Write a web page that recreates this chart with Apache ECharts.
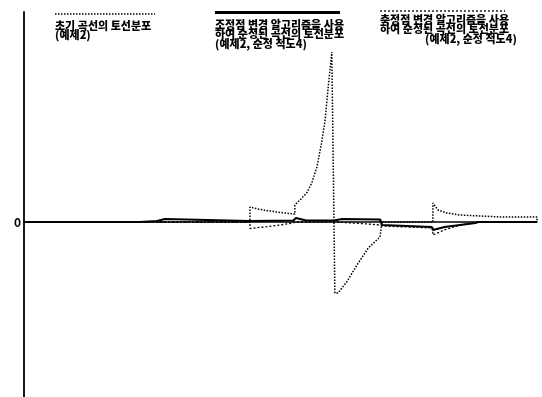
<!DOCTYPE html>
<html><head><meta charset="utf-8">
<script src="https://cdn.jsdelivr.net/npm/echarts@6/dist/echarts.min.js"></script>
<style>html,body{margin:0;padding:0;background:#fff}#c{width:542px;height:397px}</style>
</head><body><div id="c"></div>
<script>
// x: normalized arc length (0-100), y: curvature (arbitrary units)
const initialCurve = [[0,0],[44.05,0],[44.05,1.5],[46,1.25],[48,1.1],[50,0.95],[51.8,0.85],[52.8,0.8],[52.8,1.7],[53.8,2.2],[55.1,2.9],[56.1,3.9],[57.1,5.5],[58,7.9],[58.7,10.2],[59.3,13.5],[60,17],[60.3,17],[60.6,-7.1],[61.2,-7.1],[62.9,-6],[64.9,-4.3],[67.1,-2.6],[69.4,-1.5],[69.7,-0.3],[69.8,0],[79.7,0],[79.7,1.9],[80.7,1.2],[82.4,0.9],[85,0.7],[88.9,0.6],[93,0.5],[100,0.5],[100,0]];
const controlPointFaired = [[0,0],[22.6,0],[22.6,0.1],[25.9,0.1],[25.9,0.3],[27.5,0.3],[27.5,0.1],[44,0.1],[44,0.25],[52.5,0.15],[53,0.4],[55,0.15],[60.5,0.15],[62,0.3],[69.4,0.25],[69.8,-0.3],[79.5,-0.5],[79.7,-0.8],[82,-0.5],[85,-0.3],[88,-0.1],[88.5,0],[100,0]];
const vertexFaired = [[0,0],[44.05,0],[44.05,-0.65],[47.3,-0.47],[49.9,-0.3],[52.4,-0.1],[52.8,0],[60.6,0],[64,-0.1],[67,-0.2],[69.4,-0.3],[69.8,-0.4],[79.7,-0.6],[79.7,-1.3],[81.9,-0.8],[85,-0.3],[88.3,-0.03],[88.3,0],[100,0]];
const yTickLabels = [0];
const legendTexts = [
  '초기 곡선의 토선분포\n(예제2)',
  '조정점 변경 알고리즘을 사용\n하여 순정된 곡선의 토선분포\n(예제2, 순정 척도4)',
  '축정점 변경 알고리즘을 사용\n하여 순정된 곡선의 토선분포',
  '(예제2, 순정 척도4)'
];

const chart = echarts.init(document.getElementById('c'), null, {renderer:'canvas'});
const font = '"Noto Sans CJK KR", "Noto Sans", sans-serif';
const txt = (x, y, t, lh) => ({type:'text', left:x, top:y, style:{text:t, font:'900 11px ' + font, fill:'#000', lineHeight:lh}});
chart.setOption({
  animation:false,
  backgroundColor:'#fff',
  grid:{left:24, right:5, top:12, bottom:0},
  xAxis:{type:'value', min:0, max:100, axisLine:{onZero:true, lineStyle:{color:'#000', width:1.5}},
    axisTick:{show:false}, axisLabel:{show:false}, splitLine:{show:false}},
  yAxis:{type:'value', min:-17.5, max:21, axisLine:{show:true, lineStyle:{color:'#000', width:1.8}},
    axisTick:{show:false}, splitLine:{show:false},
    axisLabel:{customValues:yTickLabels, color:'#000', fontWeight:'bold', fontSize:12, margin:3, fontFamily:font}},
  series:[
    {type:'line', data:initialCurve, symbol:'none', lineStyle:{color:'#000', width:1.5, type:[1.5,1.5]}},
    {type:'line', data:controlPointFaired, symbol:'none', lineStyle:{color:'#000', width:2.2}},
    {type:'line', data:vertexFaired, symbol:'none', lineStyle:{color:'#000', width:1.3, type:[2,2]}}
  ],
  graphic:[
    {type:'line', shape:{x1:55,y1:14,x2:155,y2:14}, style:{stroke:'#000', lineWidth:1.5, lineDash:[1.5,1.5]}},
    txt(55, 20, legendTexts[0], 9.5),
    {type:'line', shape:{x1:215,y1:12.5,x2:340,y2:12.5}, style:{stroke:'#000', lineWidth:3}},
    txt(215, 19, legendTexts[1], 9.5),
    {type:'line', shape:{x1:380,y1:11,x2:505,y2:11}, style:{stroke:'#000', lineWidth:1.3, lineDash:[2,2]}},
    txt(380, 14, legendTexts[2], 9.5),
    txt(425, 33, legendTexts[3], 9.5)
  ]
});
</script></body></html>
